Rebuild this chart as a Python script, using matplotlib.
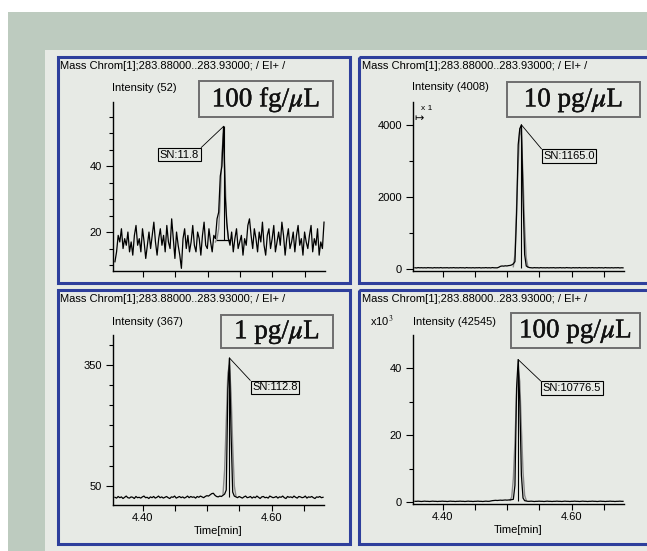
import numpy as np
import matplotlib
matplotlib.use("Agg")
import matplotlib.pyplot as plt
import matplotlib.patheffects as pe
from matplotlib.patches import Rectangle
from matplotlib.ticker import FixedLocator, MultipleLocator, NullFormatter

plt.rcParams['mathtext.fontset'] = 'stix'

W, H = 647, 551

# scan grid (min)
scan_start = 4.357
scan_step = 0.0025

# 100 fg/uL trace
fg100 = [11, 14, 19, 17, 21, 15, 18, 16, 20, 14,
         17, 13, 19, 22, 16, 18, 14, 21, 17, 12,
         16, 20, 15, 19, 23, 17, 13, 18, 21, 16,
         19, 14, 22, 17, 15, 24, 18, 12, 20, 16,
         13, 9, 18, 21, 15, 19, 14, 17, 22, 16,
         14, 20, 18, 13, 19, 23, 16, 15, 21, 17,
         14, 19, 18, 24, 26, 37, 40, 52, 31, 23,
         18, 16, 20, 14, 18, 21, 15, 17, 19, 13,
         18, 16, 22, 24, 19, 15, 21, 18, 14, 20,
         17, 23, 16, 13, 19, 21, 15, 18, 22, 14,
         17, 20, 16, 23, 19, 13, 18, 21, 15, 17,
         20, 14, 19, 22, 16, 18, 13, 20, 17, 15,
         19, 22, 14, 18, 16, 21, 13, 17, 15, 23]
fg100_fit = [17, 18, 21, 30, 44, 50, 36, 22, 18, 17]

# 10 pg/uL trace
pg10 = [30, 25, 35, 28, 32, 27, 31, 26, 34, 29,
        30, 24, 33, 28, 31, 27, 35, 26, 30, 29,
        32, 25, 31, 28, 34, 27, 30, 26, 33, 29,
        31, 24, 35, 28, 30, 27, 32, 26, 31, 29,
        33, 25, 30, 28, 34, 27, 31, 26, 35, 29,
        30, 28, 45, 70, 80, 75, 85, 80, 90, 95,
        110, 140, 200, 1500, 3450, 3900, 4008, 2000, 400, 80,
        50, 35, 30, 26, 33, 29, 31, 25, 34, 28,
        30, 27, 32, 26, 31, 29, 33, 25, 30, 28,
        34, 27, 31, 26, 35, 29, 30, 24, 33, 28,
        31, 27, 35, 26, 30, 29, 32, 25, 31, 28,
        34, 27, 30, 26, 33, 29, 31, 24, 35, 28,
        30, 27, 32, 26, 31, 29, 33, 25, 30, 28]
pg10_fit = [60, 400, 1700, 2900, 3900, 3700, 2600, 1200, 300, 60]

# 1 pg/uL trace
pg1 = [22, 20, 24, 21, 23, 19, 22, 25, 21, 20,
       23, 22, 19, 24, 21, 22, 20, 23, 25, 21,
       22, 19, 23, 21, 24, 20, 22, 25, 21, 23,
       20, 22, 24, 21, 19, 23, 22, 25, 20, 22,
       24, 21, 23, 20, 22, 25, 21, 24, 22, 23,
       20, 24, 22, 25, 23, 21, 24, 26, 25, 28,
       31, 32, 27, 24, 23, 25, 24, 27, 30, 40,
       290, 367, 180, 35, 25, 23, 21, 24, 22, 20,
       23, 25, 21, 22, 24, 20, 23, 21, 25, 22,
       19, 23, 24, 21, 22, 20, 25, 23, 21, 22,
       24, 20, 23, 22, 25, 21, 19, 24, 22, 23,
       21, 25, 22, 20, 24, 23, 21, 22, 25, 20,
       23, 22, 24, 21, 19, 23, 22, 24, 21, 22]
pg1_fit = [30, 90, 210, 330, 350, 280, 150, 50, 25]

# 100 pg/uL trace (x10^3)
pg100 = [0.2, 0.2, 0.25, 0.2, 0.15, 0.2, 0.25, 0.2, 0.2, 0.15,
         0.2, 0.25, 0.2, 0.2, 0.15, 0.2, 0.2, 0.25, 0.2, 0.2,
         0.15, 0.2, 0.25, 0.2, 0.2, 0.15, 0.2, 0.2, 0.25, 0.2,
         0.2, 0.15, 0.2, 0.25, 0.2, 0.2, 0.15, 0.2, 0.2, 0.25,
         0.2, 0.2, 0.15, 0.2, 0.25, 0.2, 0.2, 0.3, 0.4, 0.45,
         0.5, 0.45, 0.5, 0.55, 0.5, 0.55, 0.6, 0.55, 0.6, 0.65,
         0.7, 0.8, 5.0, 34.0, 42.545, 30.0, 8.0, 1.2, 0.4, 0.3,
         0.2, 0.2, 0.25, 0.2, 0.15, 0.2, 0.2, 0.25, 0.2, 0.2,
         0.15, 0.2, 0.25, 0.2, 0.2, 0.15, 0.2, 0.2, 0.25, 0.2,
         0.2, 0.15, 0.2, 0.25, 0.2, 0.2, 0.15, 0.2, 0.2, 0.25,
         0.2, 0.2, 0.15, 0.2, 0.25, 0.2, 0.2, 0.15, 0.2, 0.2,
         0.25, 0.2, 0.2, 0.15, 0.2, 0.25, 0.2, 0.2, 0.15, 0.2,
         0.2, 0.25, 0.2, 0.2, 0.15, 0.2, 0.2, 0.25, 0.2, 0.2]
pg100_fit = [0.5, 1.5, 7, 18, 32, 40, 36, 22, 9, 2, 0.5]

panels = [
    dict(trace=fg100, fit=fg100_fit, fit_start=62, apex=67, base=17.5,
         label='100 fg/$\\mu$L', intensity='Intensity (52)', sn='SN:11.8',
         box=(113, 102, 325, 271), ylim=(8.2, 59.4), major=[20, 40],
         minor=5, frame=(57.5, 57, 349.5, 283), head_y=66,
         lab_box=(199, 81, 333, 117), sn_xy=(179.5, 154.5), rel=(1, 1),
         int_xy=(112, 88), xlabels=False, baseline=(4.514, 4.535)),
    dict(trace=pg10, fit=pg10_fit, fit_start=61, apex=66, base=30,
         label='10 pg/$\\mu$L', intensity='Intensity (4008)', sn='SN:1165.0',
         box=(413, 102, 624, 271), ylim=(-60, 4643), major=[0, 2000, 4000],
         minor=1000, frame=(358.5, 57, 652, 283), head_y=66,
         lab_box=(507, 82, 640, 117), sn_xy=(569, 156), rel=(0, 1),
         int_xy=(412, 87), xlabels=False, baseline=None),
    dict(trace=pg1, fit=pg1_fit, fit_start=67, apex=71, base=22,
         label='1 pg/$\\mu$L', intensity='Intensity (367)', sn='SN:112.8',
         box=(113, 335, 324, 505), ylim=(2.9, 424), major=[50, 350],
         minor=50, frame=(57.5, 289.5, 349.5, 543.5), head_y=299,
         lab_box=(221, 315, 333, 348), sn_xy=(275, 387.5), rel=(0, 1),
         int_xy=(112, 322), xlabels=True, baseline=None),
    dict(trace=pg100, fit=pg100_fit, fit_start=59, apex=64, base=0.2,
         label='100 pg/$\\mu$L', intensity='Intensity (42545)', sn='SN:10776.5',
         box=(413, 335, 624, 504), ylim=(-0.6, 49.9), major=[0, 20, 40],
         minor=10, frame=(358.5, 289.5, 652, 543.5), head_y=299,
         lab_box=(511, 313, 640, 348), sn_xy=(572, 388), rel=(0, 1),
         int_xy=(413, 322), xlabels=True, baseline=None),
]

panel_bg = '#e7eae5'
fig = plt.figure(figsize=(W / 100, H / 100), dpi=100)
fig.patch.set_facecolor('white')

bg = fig.add_axes([0, 0, 1, 1])
bg.set_xlim(0, W)
bg.set_ylim(H, 0)
bg.axis('off')
bg.add_patch(Rectangle((8, 12), W - 8, H - 12, fc='#bdcbbf', ec='none'))
bg.add_patch(Rectangle((45, 50), W - 45, H - 50, fc=panel_bg, ec='none'))

small = dict(family='Liberation Sans', fontsize=8, color='black')

for p in panels:
    l, t, r, b = p['frame']
    bg.add_patch(Rectangle((l, t), r - l, b - t, fc='none', ec='#2e3f9c', lw=2.2))
    bg.text(l + 3, p['head_y'], 'Mass Chrom[1];283.88000..283.93000; / EI+ /',
            ha='left', va='center', **small)
    bg.text(p['int_xy'][0], p['int_xy'][1], p['intensity'], ha='left', va='center', **small)
    bl, bt, br, bb = p['lab_box']
    bg.add_patch(Rectangle((bl, bt), br - bl, bb - bt, fc=panel_bg, ec='#6e6e6e', lw=1.4))
    bg.text((bl + br) / 2, (bt + bb) / 2 + 1, p['label'], ha='center', va='center',
            family='Liberation Serif', fontsize=19.5, color='#111111',
            path_effects=[pe.withStroke(linewidth=0.3, foreground='#111111')])

    al, at, ar, ab = p['box']
    ax = fig.add_axes([al / W, 1 - ab / H, (ar - al) / W, (ab - at) / H])
    ax.patch.set_visible(False)
    trace = np.array(p['trace'], dtype=float)
    times = scan_start + scan_step * np.arange(len(trace))
    fit = np.array(p['fit'], dtype=float)
    fit_t = times[p['fit_start']:p['fit_start'] + len(fit)]
    ax.plot(fit_t, fit, color='#8a8a8a', lw=1.0)
    ax.plot(times, trace, color='black', lw=0.9)
    ax.vlines(times[p['apex']], p['base'], trace[p['apex']], color='black', lw=0.8)
    if p['baseline']:
        ax.plot(p['baseline'], [p['base'], p['base']], color='black', lw=0.9)
    ax.set_xlim(4.354, 4.681)
    ax.set_ylim(*p['ylim'])
    for s in ('top', 'right'):
        ax.spines[s].set_visible(False)
    for s in ('left', 'bottom'):
        ax.spines[s].set_linewidth(1.0)
    ax.yaxis.set_major_locator(FixedLocator(p['major']))
    ax.yaxis.set_minor_locator(MultipleLocator(p['minor']))
    ax.xaxis.set_major_locator(FixedLocator([4.40, 4.60]))
    ax.xaxis.set_minor_locator(MultipleLocator(0.05))
    ax.tick_params(axis='y', which='major', length=5, width=0.8, pad=3,
                   labelsize=8, labelfontfamily='Liberation Sans')
    ax.tick_params(axis='y', which='minor', length=3, width=0.8)
    ax.tick_params(axis='x', which='both', length=4, width=0.8, pad=2,
                   labelsize=8, labelfontfamily='Liberation Sans')
    if p['xlabels']:
        ax.set_xticklabels(['4.40', '4.60'])
        ax.set_xlabel('Time[min]', fontsize=8, family='Liberation Sans', labelpad=2)
    else:
        ax.xaxis.set_major_formatter(NullFormatter())
    ax.annotate(p['sn'], xy=(times[p['apex']], trace[p['apex']]), xycoords='data',
                xytext=p['sn_xy'], textcoords=bg.transData, ha='center', va='center',
                annotation_clip=False, fontsize=8, family='Liberation Sans',
                bbox=dict(boxstyle='square,pad=0.15', fc=panel_bg, ec='black', lw=0.8),
                arrowprops=dict(arrowstyle='-', color='black', lw=0.6,
                                shrinkA=0, shrinkB=0, relpos=p['rel']))

# scale marks
bg.text(370, 321, 'x10$^3$', ha='left', va='center', **small)
bg.text(414, 118, '\u21a6', ha='left', va='center', family='DejaVu Sans', fontsize=8)
bg.text(421, 109, 'x 1', ha='left', va='center', family='Liberation Sans', fontsize=6)

fig.savefig('out.png', dpi=100, facecolor='white')
